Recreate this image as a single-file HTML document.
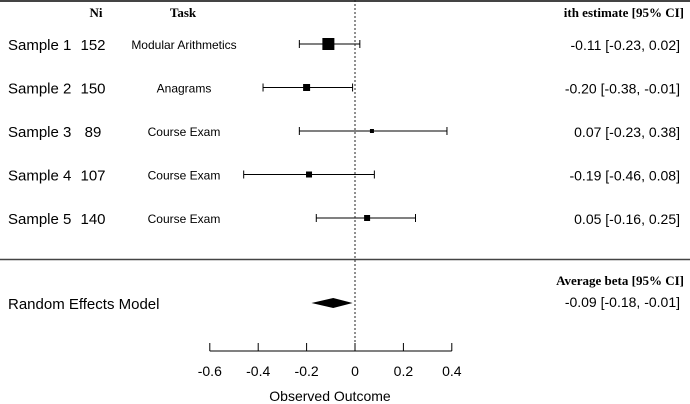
<!DOCTYPE html>
<html><head><meta charset="utf-8">
<style>
html,body{margin:0;padding:0;background:#fff;}
svg{display:block;font-family:"Liberation Sans",sans-serif;}
.serif{font-family:"Liberation Serif",serif;font-weight:bold;}
</style></head>
<body>
<svg id="chart" width="690" height="404" viewBox="0 0 690 404">
<line x1="0" y1="1" x2="690" y2="1" stroke="#444" stroke-width="2"/>
<line x1="0" y1="259.5" x2="690" y2="259.5" stroke="#444" stroke-width="1.5"/>
<text class="serif" x="96" y="17" font-size="13" text-anchor="middle">Ni</text>
<text class="serif" x="183" y="17" font-size="13" text-anchor="middle">Task</text>
<text class="serif" x="684" y="17" font-size="13" text-anchor="end">ith estimate [95% CI]</text>
<text class="serif" x="684" y="285" font-size="13" text-anchor="end">Average beta [95% CI]</text>
<g id="rows"></g>
<g id="axis"></g>
</svg>
<script>
const labels = ["Sample 1","Sample 2","Sample 3","Sample 4","Sample 5"];
const ns = [152,150,89,107,140];
const tasks = ["Modular Arithmetics","Anagrams","Course Exam","Course Exam","Course Exam"];
const estimates = [-0.11,-0.20,0.07,-0.19,0.05];
const lowers = [-0.23,-0.38,-0.23,-0.46,-0.16];
const uppers = [0.02,-0.01,0.38,0.08,0.25];
const weights = [12,7,4,6,6];
const pooled = [-0.09,-0.18,-0.01];
const ticks = [-0.6,-0.4,-0.2,0,0.2,0.4];
const tickLabels = ["-0.6","-0.4","-0.2","0","0.2","0.4"];

const X0 = 355, SC = 242;
const xs = v => X0 + SC*v;
const rowY = i => 44 + i*43.5;
const fmt = v => (v<0?"-":"")+Math.abs(v).toFixed(2);
const NS = "http://www.w3.org/2000/svg";
const svg = document.getElementById('chart');
const rows = document.getElementById('rows');
const axis = document.getElementById('axis');
function mk(tag, attrs, parent, txt){
  const e = document.createElementNS(NS, tag);
  for (const k in attrs) e.setAttribute(k, attrs[k]);
  if (txt!==undefined) e.textContent = txt;
  parent.appendChild(e); return e;
}
// zero reference
let z = mk('line',{x1:xs(0),y1:0,x2:xs(0),y2:351,stroke:'#222','stroke-width':1,'stroke-dasharray':'2,2'},axis);



labels.forEach((lab,i)=>{
  const y = rowY(i);
  const g = mk('g',{},rows);
  
  
  let t = mk('text',{x:8,y:y+6,'font-size':15},g,lab);
  
  
  t = mk('text',{x:93,y:y+6,'font-size':15,'text-anchor':'middle'},g,ns[i]);
  
  
  t = mk('text',{x:184,y:y+5,'font-size':12,'text-anchor':'middle'},g,tasks[i]);
  
  
  const ci = fmt(estimates[i])+" ["+fmt(lowers[i])+", "+(uppers[i]<0?"":" ")+fmt(uppers[i])+"]";
  t = mk('text',{x:680,y:y+6,'font-size':14,'text-anchor':'end'},g,ci);
  
  
  const l = mk('line',{x1:xs(lowers[i]),y1:y,x2:xs(uppers[i]),y2:y,stroke:'#000','stroke-width':1},g);
  
  
  [lowers[i],uppers[i]].forEach(v=>{
    const c = mk('line',{x1:xs(v),y1:y-4,x2:xs(v),y2:y+4,stroke:'#000','stroke-width':1},g);
    
    
  });
  const w = weights[i];
  const r = mk('rect',{x:xs(estimates[i])-w/2,y:y-w/2,width:w,height:w,fill:'#000'},g);
  
  
});

// pooled
const py = 303;
let t = mk('text',{x:8,y:py+6,'font-size':15},rows,'Random Effects Model');


t = mk('text',{x:680,y:py+4,'font-size':14,'text-anchor':'end'},rows,fmt(pooled[0])+" ["+fmt(pooled[1])+", "+fmt(pooled[2])+"]");


const d = mk('polygon',{points:`${xs(pooled[1])},${py} ${xs(pooled[0])},${py-5} ${xs(pooled[2])},${py} ${xs(pooled[0])},${py+5}`,fill:'#000'},rows);



// axis
const al = mk('line',{x1:xs(ticks[0]),y1:351,x2:xs(ticks[ticks.length-1]),y2:351,stroke:'#000','stroke-width':1},axis);


ticks.forEach((v,i)=>{
  const tl = mk('line',{x1:xs(v),y1:343,x2:xs(v),y2:351,stroke:'#000','stroke-width':1},axis);
  
  
  const tx = mk('text',{x:xs(v),y:376,'font-size':14,'text-anchor':'middle'},axis,tickLabels[i]);
  
  
});
t = mk('text',{x:xs(0)-25,y:401,'font-size':14,'text-anchor':'middle'},axis,'Observed Outcome');


</script>
</body></html>
